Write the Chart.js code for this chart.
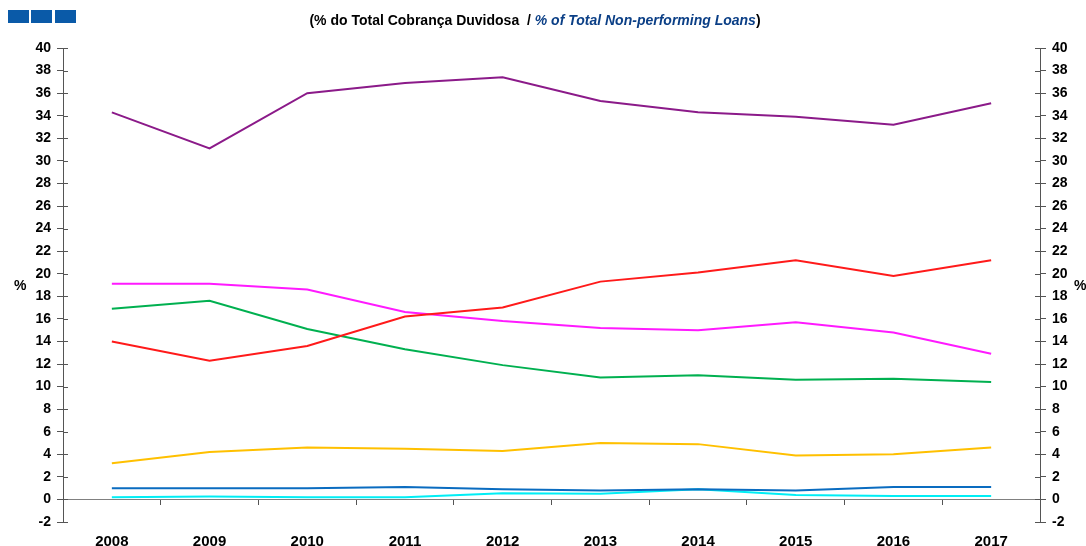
<!DOCTYPE html>
<html>
<head>
<meta charset="utf-8">
<script src="https://cdn.jsdelivr.net/npm/chart.js@4/dist/chart.umd.min.js"></script>
<style>
  body { margin: 0; background: #fff; font-family: "Liberation Sans", Arial, sans-serif; }
  #wrap { position: relative; width: 1086px; height: 546px; }
  #lineChart { position: absolute; left: 0; top: 0; }
  .sq { position: absolute; top: 10px; width: 21px; height: 13px; background: #0A5AA8; }
  #sub { position: absolute; top: 12px; left: 0; width: 1070px; text-align: center;
         font-weight: bold; font-size: 14px; color: #000; }
  #sub i { color: #0B3F86; }
  .pct { position: absolute; top: 277px; font-weight: bold; font-size: 14px; }
</style>
</head>
<body>
<div id="wrap">
  <canvas id="lineChart" width="1086" height="546"></canvas>
  <div class="sq" style="left:8px"></div>
  <div class="sq" style="left:31px"></div>
  <div class="sq" style="left:55px"></div>
  <div id="sub">(% do Total Cobrança Duvidosa &nbsp;/ <i>% of Total Non-performing Loans</i>)</div>
  <div class="pct" style="left:14px">%</div>
  <div class="pct" style="left:1074px">%</div>
</div>
<script>
const years = ['2008', '2009', '2010', '2011', '2012', '2013', '2014', '2015', '2016', '2017'];

const purpleSeries  = [34.3, 31.1, 36.0, 36.9, 37.4, 35.3, 34.3, 33.9, 33.2, 35.1];
const redSeries     = [14.0, 12.3, 13.6, 16.2, 17.0, 19.3, 20.1, 21.2, 19.8, 21.2];
const magentaSeries = [19.1, 19.1, 18.6, 16.6, 15.8, 15.2, 15.0, 15.7, 14.8, 12.9];
const greenSeries   = [16.9, 17.6, 15.1, 13.3, 11.9, 10.8, 11.0, 10.6, 10.7, 10.4];
const yellowSeries  = [3.2, 4.2, 4.6, 4.5, 4.3, 5.0, 4.9, 3.9, 4.0, 4.6];
const blueSeries    = [1.0, 1.0, 1.0, 1.1, 0.9, 0.8, 0.9, 0.8, 1.1, 1.1];
const cyanSeries    = [0.2, 0.25, 0.2, 0.2, 0.55, 0.5, 0.9, 0.4, 0.3, 0.3];

const yTicks = { min: -2, max: 40, step: 2 };

const axisDark = '#555555';
const axisGray = '#808080';
const tickFont = { family: 'Liberation Sans', size: 14, weight: 'bold' };

function line(label, data, color) {
    return {
        label: label,
        data: data,
        borderColor: color,
        backgroundColor: color,
        borderWidth: 2,
        pointRadius: 0,
        tension: 0,
        xAxisID: 'x',
        yAxisID: 'y'
    };
}

// small tick marks on the inner side of both value axes
const innerTicks = {
    id: 'innerTicks',
    afterDraw(chart) {
        const c = chart.ctx;
        c.save();
        c.strokeStyle = axisDark;
        c.lineWidth = 1;
        ['y', 'y2'].forEach((id) => {
            const s = chart.scales[id];
            const x = id == 'y' ? s.right : s.left;
            const d = id == 'y' ? 5 : -5;
            s.ticks.forEach((t) => {
                const py = Math.round(s.getPixelForValue(t.value)) + 0.5;
                c.beginPath();
                c.moveTo(x, py);
                c.lineTo(x + d, py);
                c.stroke();
            });
        });
        c.restore();
    }
};

new Chart(document.getElementById('lineChart'), {
    type: 'line',
    data: {
        labels: years,
        datasets: [
            line('purple', purpleSeries, '#8B1A89'),
            line('red', redSeries, '#FF1A1A'),
            line('magenta', magentaSeries, '#FF1AFF'),
            line('green', greenSeries, '#00B050'),
            line('yellow', yellowSeries, '#FFC000'),
            line('blue', blueSeries, '#0A6CC0'),
            line('cyan', cyanSeries, '#00EEF5')
        ]
    },
    options: {
        responsive: false,
        animation: false,
        layout: { padding: { top: 48, left: 0, right: 0, bottom: 0 } },
        plugins: {
            legend: { display: false },
            tooltip: { enabled: false }
        },
        scales: {
            x: {
                type: 'category',
                position: { y: 0 },
                offset: true,
                grid: { drawOnChartArea: false, drawTicks: true, tickLength: 6, color: axisDark, offset: true },
                border: { display: false },
                ticks: { display: false }
            },
            x2: {
                type: 'category',
                position: 'bottom',
                offset: true,
                grid: { display: false },
                border: { display: false },
                ticks: { color: '#000', font: { family: 'Liberation Sans', size: 15, weight: 'bold' }, padding: 3, maxRotation: 0 },
                afterFit: (scale) => { scale.height = 24; }
            },
            y: {
                position: 'left',
                min: yTicks.min,
                max: yTicks.max,
                ticks: { stepSize: yTicks.step, color: '#000', font: tickFont, padding: 6 },
                grid: {
                    color: (ctx) => (ctx.tick && ctx.tick.value === 0 ? axisGray : 'rgba(0,0,0,0)'),
                    tickColor: axisDark,
                    tickLength: 6
                },
                border: { display: true, color: axisDark },
                afterFit: (scale) => { scale.width = 63; }
            },
            y2: {
                position: 'right',
                min: yTicks.min,
                max: yTicks.max,
                ticks: { stepSize: yTicks.step, color: '#000', font: tickFont, padding: 6 },
                grid: { drawOnChartArea: false, tickColor: axisDark, tickLength: 6 },
                border: { display: true, color: axisDark },
                afterFit: (scale) => { scale.width = 46; }
            }
        }
    },
    plugins: [innerTicks]
});
</script>
</body>
</html>
